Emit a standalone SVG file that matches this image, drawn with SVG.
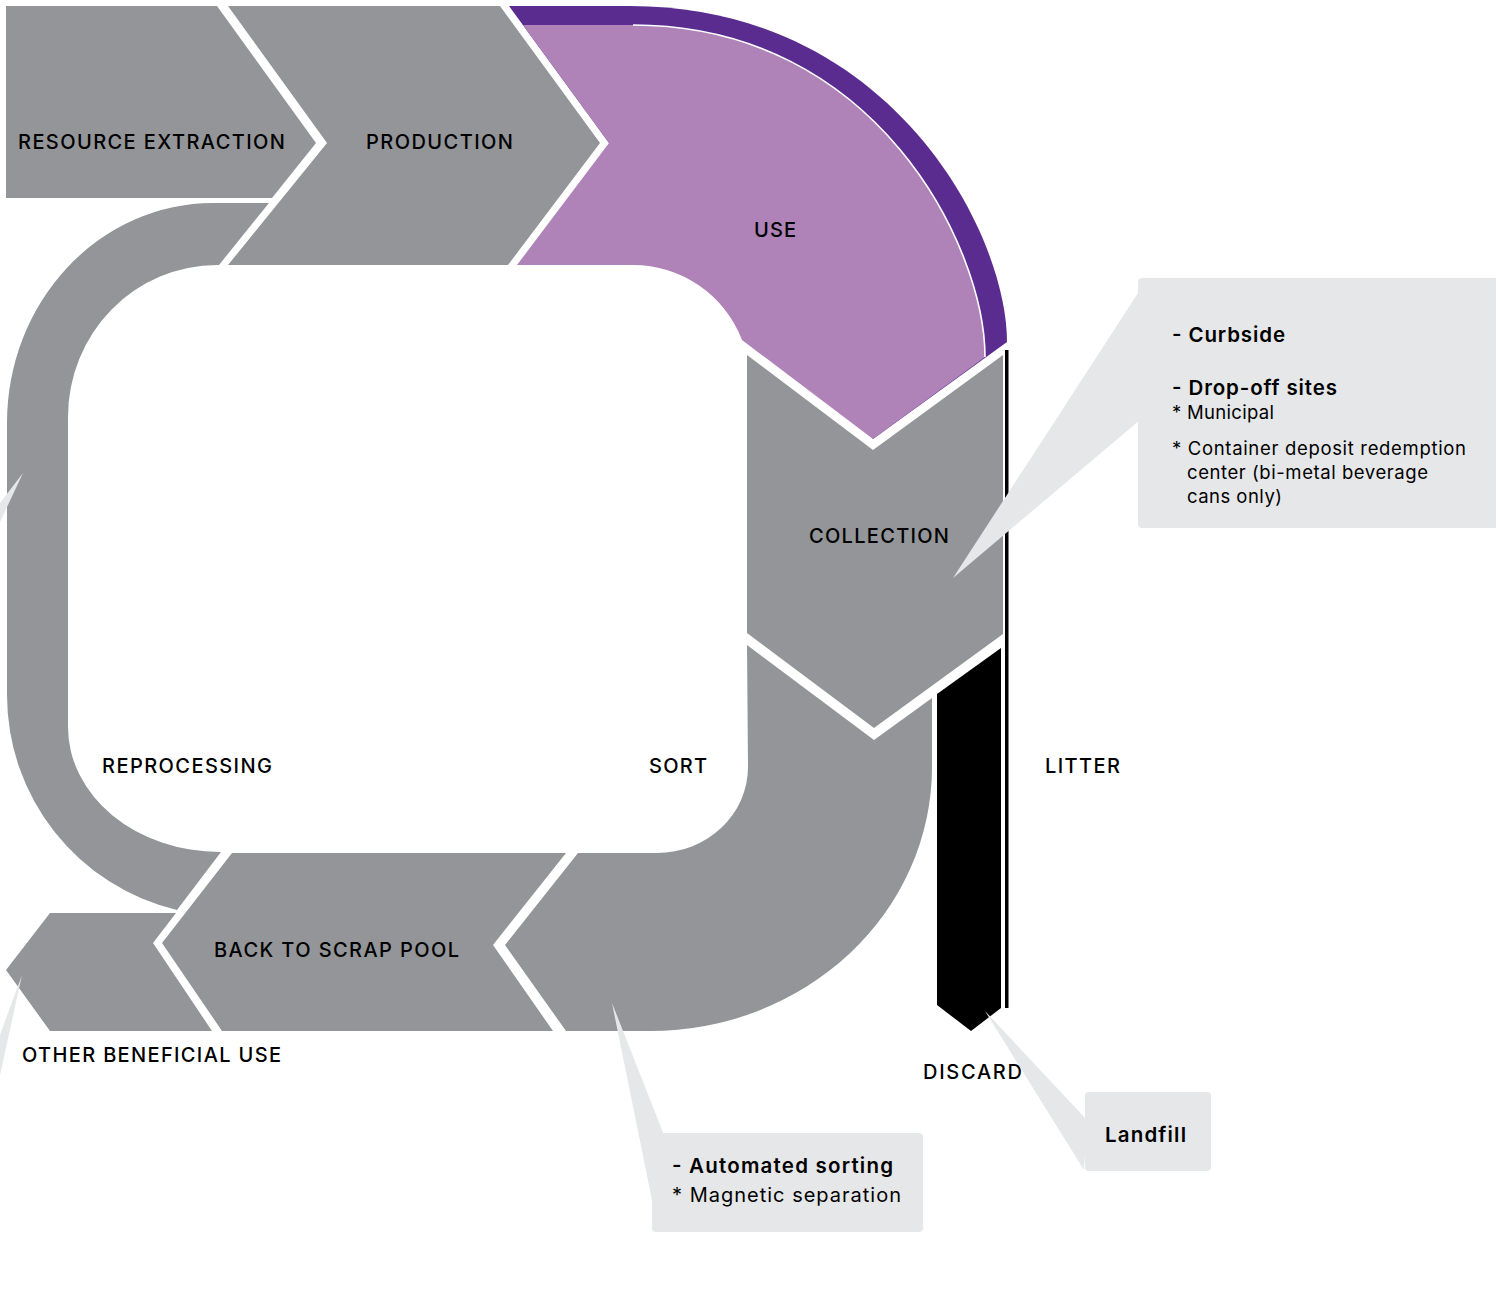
<svg xmlns="http://www.w3.org/2000/svg" width="1496" height="1296" viewBox="0 0 1496 1296">
<style>
.g{fill:#939598}
.lp{fill:#AF83B8}
.dp{fill:#5B2C90}
.blk{fill:#000}
.co{fill:#E6E7E8}
.lbl{font-family:Inter,"Liberation Sans",sans-serif;font-size:20px;font-weight:500;fill:#000}
.cb{font-family:Inter,"Liberation Sans",sans-serif;font-size:20.5px;font-weight:600;fill:#000}
.cr{font-family:Inter,"Liberation Sans",sans-serif;font-size:18.5px;font-weight:400;fill:#000}
</style>
<rect width="1496" height="1296" fill="#fff"/>
<g id="resource-extraction">
<path class="g" d="M6,6 L217,6 L316,143 L272,198 L6,198 Z"/>
<text class="lbl" x="18" y="149" textLength="267">RESOURCE EXTRACTION</text>
</g>
<g id="production">
<path class="g" d="M228,6 L500,6 L600,143 L508,265 L228,265 L327,143 Z"/>
<text class="lbl" x="366" y="149" textLength="147">PRODUCTION</text>
</g>
<g id="use">
<path class="dp" d="M509,6 L630,6 C890,6 1007,232 1007,342 L873,439 L609,143 Z"/>
<path class="lp" d="M523,25 L633,25 C876,25 985,247 985,357 L873,439 L742,340 A117,117 0 0 0 633,265 L517,265 L609,143 Z"/>
<path d="M633,25 C876,25 985,247 985,357" fill="none" stroke="#fff" stroke-width="1.6"/>
<text class="lbl" x="754" y="237" textLength="42">USE</text>
</g>
<g id="collection">
<path class="g" d="M747,355 L873,450 L1003,355 L1003,634 L874,728 L747,633 Z"/>
<text class="lbl" x="809" y="543" textLength="140">COLLECTION</text>
</g>
<g id="litter">
<rect class="blk" x="1005" y="350" width="3.5" height="658"/>
<text class="lbl" x="1045" y="773" textLength="75">LITTER</text>
</g>
<g id="discard">
<path class="blk" d="M937,694 L1001,648 L1001,1008 L971,1031 L937,1005 Z"/>
<text class="lbl" x="923" y="1079" textLength="99">DISCARD</text>
</g>
<g id="sort">
<path class="g" d="M747,645 L874,740 L932,698 L932,767 A282,264 0 0 1 650,1031 L566,1031 L505,945 L578,853 L657,853 A91,86 0 0 0 748,767 Z"/>
<text class="lbl" x="649" y="773" textLength="58">SORT</text>
</g>
<g id="back-to-scrap-pool">
<path class="g" d="M232,853 L566,853 L493,945 L553,1031 L222,1031 L162,943 Z"/>
<text class="lbl" x="214" y="957" textLength="245">BACK TO SCRAP POOL</text>
</g>
<g id="other-beneficial-use">
<path class="g" d="M50,913 L176,913 L153,943 L212,1031 L50,1031 L6,970 Z"/>
<text class="lbl" x="22" y="1062" textLength="259">OTHER BENEFICIAL USE</text>
</g>
<g id="reprocessing">
<path class="g" d="M269,203 L213,203 A206,220 0 0 0 7,423 L7,695 A221,221 0 0 0 177,910 L221,852 L220,852 A152,125 0 0 1 68,727 L68,417 A149,152 0 0 1 217,265 L219,265 Z"/>
<text class="lbl" x="102" y="773" textLength="170">REPROCESSING</text>
</g>
<g id="connectors">
<polygon class="co" points="23,473 0,503 0,522"/>
<polygon class="co" points="22,975 0,1035 0,1075"/>
<polygon class="co" points="1140,290 953,578 1140,420"/>
<polygon class="co" points="612,1003 664,1135 652,1200"/>
<polygon class="co" points="985,1011 1087,1120 1084,1170"/>
</g>
<g id="callout-collection">
<rect class="co" x="1138" y="278" width="362" height="250" rx="4"/>
<text class="cb" x="1172" y="342" textLength="113">- Curbside</text>
<text class="cb" x="1172" y="395" textLength="165">- Drop-off sites</text>
<text class="cr" x="1172" y="419" textLength="102">* Municipal</text>
<text class="cr" x="1172" y="455" textLength="294">* Container deposit redemption</text>
<text class="cr" x="1187" y="479" textLength="241">center (bi-metal beverage</text>
<text class="cr" x="1187" y="503" textLength="95">cans only)</text>
</g>
<g id="callout-sort">
<rect class="co" x="652" y="1133" width="271" height="99" rx="4"/>
<text class="cb" x="672" y="1173" textLength="221">- Automated sorting</text>
<text class="cr" x="672" y="1202" style="font-size:20px" textLength="229">* Magnetic separation</text>
</g>
<g id="callout-landfill">
<rect class="co" x="1085" y="1092" width="126" height="79" rx="4"/>
<text class="cb" x="1105" y="1142" textLength="81">Landfill</text>
</g>
</svg>
